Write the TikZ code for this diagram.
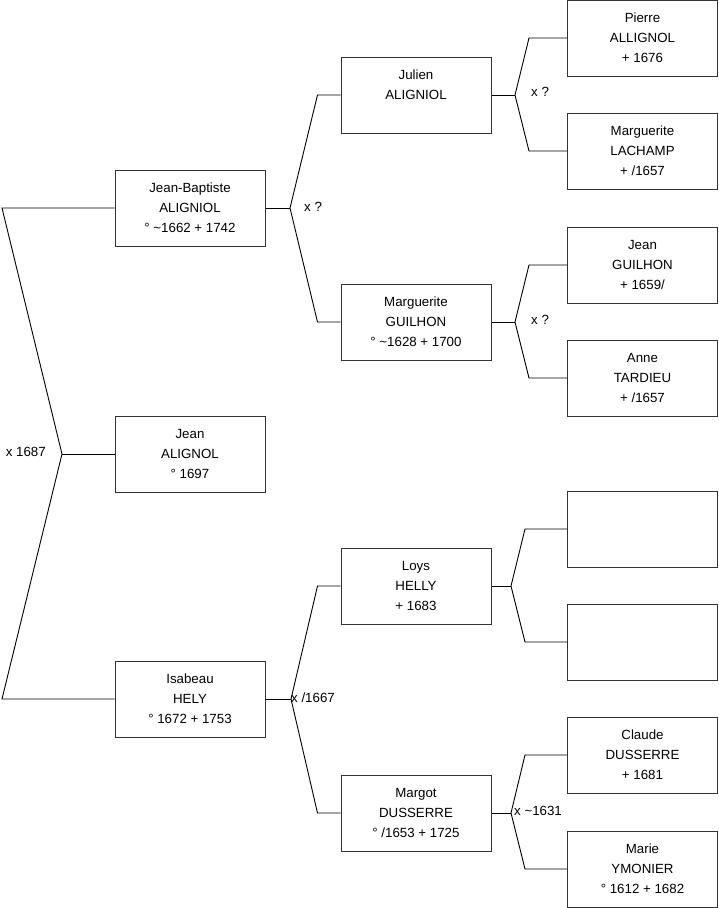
\documentclass[tikz,border=0pt]{standalone}
\usepackage{fontspec}
\setmainfont{Liberation Sans}
\usetikzlibrary{calc}
\definecolor{TreeInk}{HTML}{000000}
\definecolor{TreeEdge}{HTML}{333333}
\tikzset{
  person/.style={draw=TreeEdge,line width=1pt,fill=white,minimum width=150pt,
                 minimum height=76pt,inner sep=0pt,align=center,text=TreeInk,
                 font=\fontsize{13.3}{20}\selectfont},
  branch/.style={draw=TreeInk,line width=0.9pt,line join=miter},
  union/.style={text=TreeInk,font=\fontsize{13.3}{16}\selectfont,inner sep=0pt},
}

\begin{document}
\begin{tikzpicture}[x=1pt,y=-1pt]
  \useasboundingbox[fill=white] (0,0) rectangle (719,908);

  % generation 1
  \node[person] (pjb)    at (190,208) {Jean-Baptiste\\ALIGNIOL\\° \textasciitilde1662 + 1742};
  \node[person] (pjean)  at (190,454) {Jean\\ALIGNOL\\° 1697};
  \node[person] (pisab)  at (190,699) {Isabeau\\HELY\\° 1672 + 1753};

  % generation 2
  \node[person] (pjul)    at (416,95)  {Julien\\ALIGNIOL\\\mbox{}};
  \node[person] (pmarg)   at (416,322) {Marguerite\\GUILHON\\° \textasciitilde1628 + 1700};
  \node[person] (ploys)   at (416,586) {Loys\\HELLY\\+ 1683};
  \node[person] (pmargot) at (416,813) {Margot\\DUSSERRE\\° /1653 + 1725};

  % generation 3
  \node[person] (ppierre)  at (642.5,38)  {Pierre\\ALLIGNOL\\+ 1676};
  \node[person] (plachamp) at (642.5,151) {Marguerite\\LACHAMP\\+ /1657};
  \node[person] (pguil)    at (642.5,265) {Jean\\GUILHON\\+ 1659/};
  \node[person] (ptard)    at (642.5,378) {Anne\\TARDIEU\\+ /1657};
  \node[person] (pempa)    at (642.5,529) {};
  \node[person] (pempb)    at (642.5,642) {};
  \node[person] (pclaude)  at (642.5,755) {Claude\\DUSSERRE\\+ 1681};
  \node[person] (pmarie)   at (642.5,869) {Marie\\YMONIER\\° 1612 + 1682};

  % unions
  \coordinate (x0) at (62,454);
  \coordinate (x1) at (290,208);
  \coordinate (x2) at (291,699);
  \coordinate (x3) at (515,95);
  \coordinate (x4) at (515,322);
  \coordinate (x5) at (511,586);
  \coordinate (x6) at (511,813);
  \coordinate (l1) at (2,208);
  \coordinate (l2) at (2,699);

  \draw[branch] (pjean.west) -- (x0);
  \draw[branch] (pjb.west) -- (l1) -- (x0) -- (l2) -- (pisab.west);

  \draw[branch] (pjb.east) -- (x1);
  \draw[branch] (pjul.west) -- ++(-23,0) -- (x1) -- ($(pmarg.west)+(-23,0)$) -- (pmarg.west);
  \draw[branch] (pisab.east) -- (x2);
  \draw[branch] (ploys.west) -- ++(-23,0) -- (x2) -- ($(pmargot.west)+(-23,0)$) -- (pmargot.west);

  \draw[branch] (pjul.east) -- (x3);
  \draw[branch] (ppierre.west) -- ++(-38,0) -- (x3) -- ($(plachamp.west)+(-38,0)$) -- (plachamp.west);
  \draw[branch] (pmarg.east) -- (x4);
  \draw[branch] (pguil.west) -- ++(-38,0) -- (x4) -- ($(ptard.west)+(-38,0)$) -- (ptard.west);
  \draw[branch] (ploys.east) -- (x5);
  \draw[branch] (pempa.west) -- ++(-42,0) -- (x5) -- ($(pempb.west)+(-42,0)$) -- (pempb.west);
  \draw[branch] (pmargot.east) -- (x6);
  \draw[branch] (pclaude.west) -- ++(-42,0) -- (x6) -- ($(pmarie.west)+(-42,0)$) -- (pmarie.west);

  \node[union,anchor=east] (u0) at (46,452)  {x 1687};
  \node[union,anchor=west] (u1) at (304,207) {x ?};
  \node[union,anchor=west] (u2) at (291,698) {x /1667};
  \node[union,anchor=west] (u3) at (531,92)  {x ?};
  \node[union,anchor=west] (u4) at (531,320) {x ?};
  \node[union,anchor=west] (u6) at (514,811) {x \textasciitilde1631};
\end{tikzpicture}
\end{document}
